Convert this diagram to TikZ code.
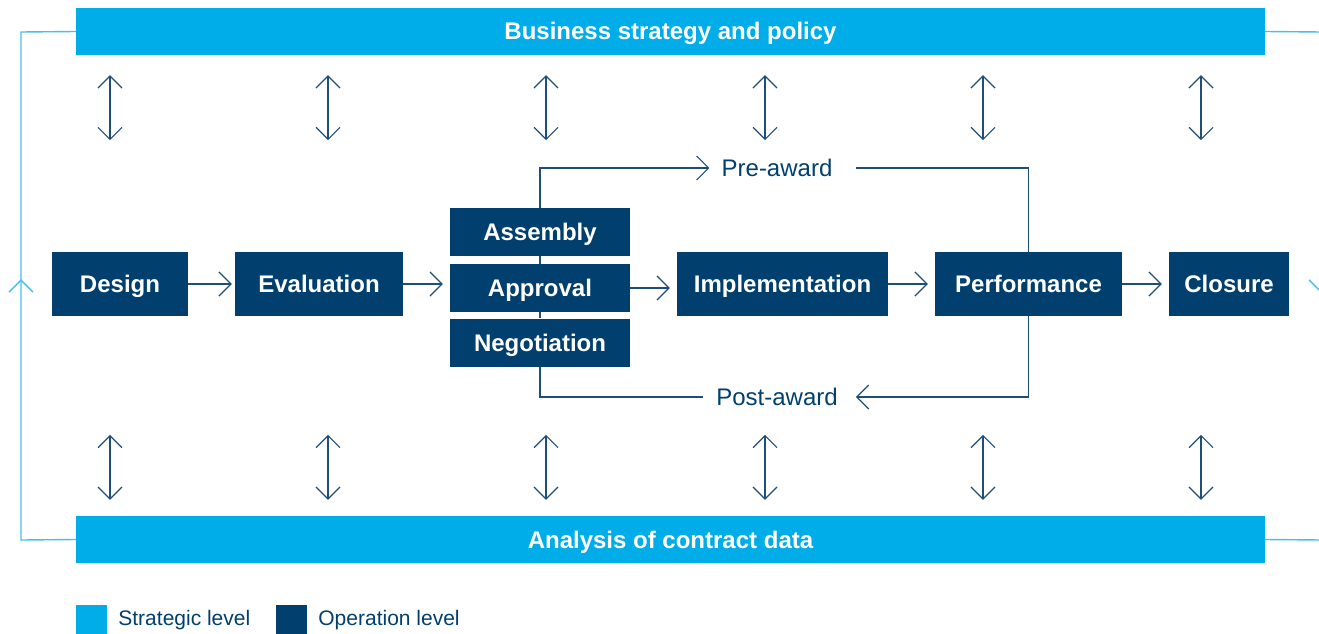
\documentclass[tikz,border=0pt]{standalone}
\usepackage{fontspec}
\setmainfont{Liberation Sans}
\usetikzlibrary{arrows.meta}
\usetikzlibrary{decorations.markings}
\usetikzlibrary{positioning}
\usetikzlibrary{calc}
\definecolor{stratblue}{HTML}{00ADE9}
\definecolor{loopblue}{HTML}{45BFEE}
\definecolor{opnavy}{HTML}{003F6E}
\definecolor{linenavy}{HTML}{1F4E7A}
\tikzset{%
    chev/.tip={Straight Barb[length=12pt,width=24pt]},
}

\begin{document}
\begin{tikzpicture}[x=1pt,y=-1pt,
    opbox/.style={fill=opnavy, text=white, inner sep=0pt,
        font=\bfseries\fontsize{24}{28}\selectfont, text height=17pt, text depth=0pt,
        minimum height=64pt},
    stack/.style={opbox, minimum width=180pt, minimum height=48pt},
    stratbar/.style={fill=stratblue, text=white, inner sep=0pt,
        font=\bfseries\fontsize{24}{28}\selectfont, text height=17pt, text depth=0pt,
        minimum width=1189pt, minimum height=47pt},
    flow/.style={draw=linenavy, line width=1.2pt, -chev},
    dbl/.style={draw=linenavy, line width=1.2pt, chev-chev},
    awardtxt/.style={text=opnavy, inner ysep=0pt, text height=17pt, text depth=0pt,
        font=\fontsize{24}{28}\selectfont},
    loopline/.style={draw=loopblue, line width=1.4pt, postaction={decorate},
        decoration={markings, mark=at position 0.511 with {\arrow{chev}}}},
    legsq/.style={inner sep=0pt, minimum size=31pt},
    legtxt/.style={text=opnavy, inner sep=0pt, font=\fontsize{21}{25}\selectfont},
]
\useasboundingbox (0,0) rectangle (1319,634);
% strategic level
\node (top) [stratbar] at (670.5,31.5) {Business strategy and policy};
\node (bot) [stratbar] at (670.5,539.5) {Analysis of contract data};
\coordinate (lt) at (21,32);
\coordinate (lb) at (21,540);
\coordinate (rt) at (1321,32);
\coordinate (rb) at (1321,540);
\draw [loopline] (bot.west) -- (lb) -- (lt) -- (top.west);
\draw [loopline] (top.east) -- (rt) -- (rb) -- (bot.east);
% operation level
\node (des) [opbox, minimum width=136pt] at (120,284) {Design};
\node (eva) [opbox, minimum width=168pt] at (319,284) {Evaluation};
\node (asm) [stack] at (540,232) {Assembly};
\node (apr) [stack] at (540,288) {Approval};
\node (neg) [stack] at (540,342.5) {Negotiation};
\node (imp) [opbox, minimum width=211pt] at (782.5,284) {Implementation};
\node (per) [opbox, minimum width=187pt] at (1028.5,284) {Performance};
\node (clo) [opbox, minimum width=120pt] at (1229,284) {Closure};
\node (pre) [awardtxt, inner xsep=12pt] at (777,168) {Pre-award};
\node (post) [awardtxt, inner xsep=13pt] at (777,397) {Post-award};
\draw [flow] (des.east) -- ([xshift=-3pt]eva.west);
\draw [flow] (eva.east) -- ([xshift=-7pt]eva.east -| apr.west);
\draw [flow] (apr.east) -- ([xshift=-7pt]apr.east -| imp.west);
\draw [flow] (imp.east) -- ([xshift=-7pt]per.west);
\draw [flow] (per.east) -- ([xshift=-7pt]clo.west);
\draw [draw=linenavy, line width=1.2pt] (asm.south) -- (apr.north) (apr.south) -- (neg.north);
\draw [flow] (asm.north) |- (pre.west);
\draw [draw=linenavy, line width=1.2pt] ([xshift=11pt]pre.east) -| (per.north);
\draw [flow] (per.south) |- ([xshift=5pt]post.east);
\draw [draw=linenavy, line width=1.2pt] (post.west) -| (neg.south);
% links between the levels
\foreach \x in {110,328,546,765,983,1201} {
    \draw [dbl] ([yshift=-20pt]top.south -| \x,0) -- ([yshift=-85pt]top.south -| \x,0);
    \draw [dbl] ([yshift=81pt]bot.north -| \x,0) -- ([yshift=16pt]bot.north -| \x,0);
}
% legend
\node (slsq) [legsq, fill=stratblue] at (91.5,620.5) {};
\node (sltxt) [legtxt, right=11pt of slsq] {Strategic level};
\node (olsq) [legsq, fill=opnavy] at (291.5,620.5) {};
\node (oltxt) [legtxt, right=11pt of olsq] {Operation level};
\end{tikzpicture}
\end{document}
